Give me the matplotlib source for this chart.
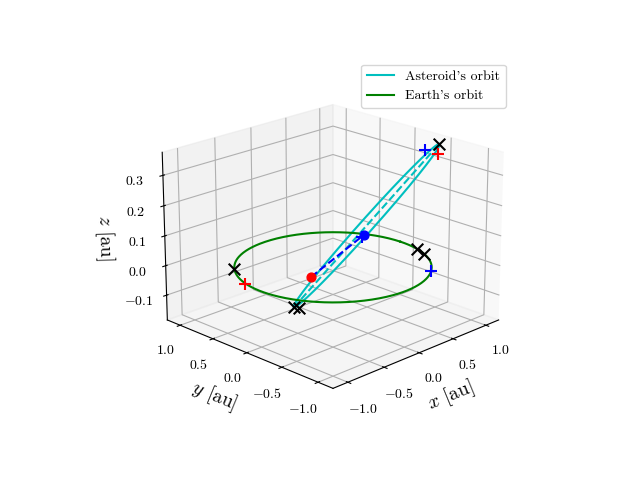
import numpy as np
import matplotlib
matplotlib.use("Agg")
import matplotlib.pyplot as plt

plt.rcParams["font.family"] = "serif"
plt.rcParams["font.serif"] = ["cmr10"]
plt.rcParams["mathtext.fontset"] = "cm"
plt.rcParams["axes.formatter.use_mathtext"] = True

# Asteroid orbit geometry (perihelion, aphelion, minor half-width)
peri = np.array([-0.90, -0.36, -0.03])
aphe = np.array([1.30, -0.25, 0.33])
half_width = 0.09
earth_radius = 1.0

red_dot = [-0.38, -0.07, 0.0]
blue_dot = [0.24, -0.20, 0.10]
black_x = [(-0.90, -0.36, -0.03), (-0.87, -0.40, -0.03), (1.30, -0.25, 0.33),
           (-0.77, 0.64, 0.0), (0.97, -0.26, 0.0), (0.91, -0.42, 0.0)]
red_plus = [(-0.97, 0.26, 0.0), (1.22, -0.30, 0.305)]
blue_plus = [(0.77, -0.64, -0.03), (1.20, -0.15, 0.31), (0.22, -0.20, 0.095)]

t = np.linspace(0, 2 * np.pi, 400)
C = (peri + aphe) / 2
u = (aphe - peri) / 2
perp = np.array([-u[1], u[0], 0.0])
w = perp / np.linalg.norm(perp) * half_width
ast = C[:, None] + u[:, None] * np.cos(t) + w[:, None] * np.sin(t)

fig = plt.figure(figsize=(6.4, 4.8), dpi=100)
ax = fig.add_subplot(projection="3d")
ax.view_init(elev=20, azim=-135)
ax.plot(*ast, color="c", label="Asteroid's orbit")
ax.plot(earth_radius * np.cos(t), earth_radius * np.sin(t), 0 * t, color="g", label="Earth's orbit")
ax.plot(*zip(peri, aphe), color="c", ls="--")
ax.plot(*zip(red_dot, blue_dot), color="b", ls="--")
ax.scatter(*red_dot, color="r", s=40, depthshade=False)
ax.scatter(*blue_dot, color="b", s=40, depthshade=False)
for p in black_x:
    ax.scatter(*p, marker="x", color="k", s=70, depthshade=False, linewidths=1.5)
for p in red_plus:
    ax.scatter(*p, marker="+", color="r", s=70, depthshade=False, linewidths=1.5)
for p in blue_plus:
    ax.scatter(*p, marker="+", color="b", s=70, depthshade=False, linewidths=1.5)

ax.set_xlim(-1.2, 1.2)
ax.set_ylim(-1.2, 1.2)
ax.set_zlim(-0.185, 0.375)
ax.set_xticks([-1.0, -0.5, 0.0, 0.5, 1.0])
ax.set_yticks([-1.0, -0.5, 0.0, 0.5, 1.0])
ax.set_zticks([-0.1, 0.0, 0.1, 0.2, 0.3])
ax.set_xlabel(r"$x$ [au]", fontsize=14)
ax.set_ylabel(r"$y$ [au]", fontsize=14)
ax.set_zlabel(r"$z$ [au]", fontsize=14)
ax.set_box_aspect((1, 1, 0.75))
ax.legend(loc="upper right")
fig.savefig("out.png")
